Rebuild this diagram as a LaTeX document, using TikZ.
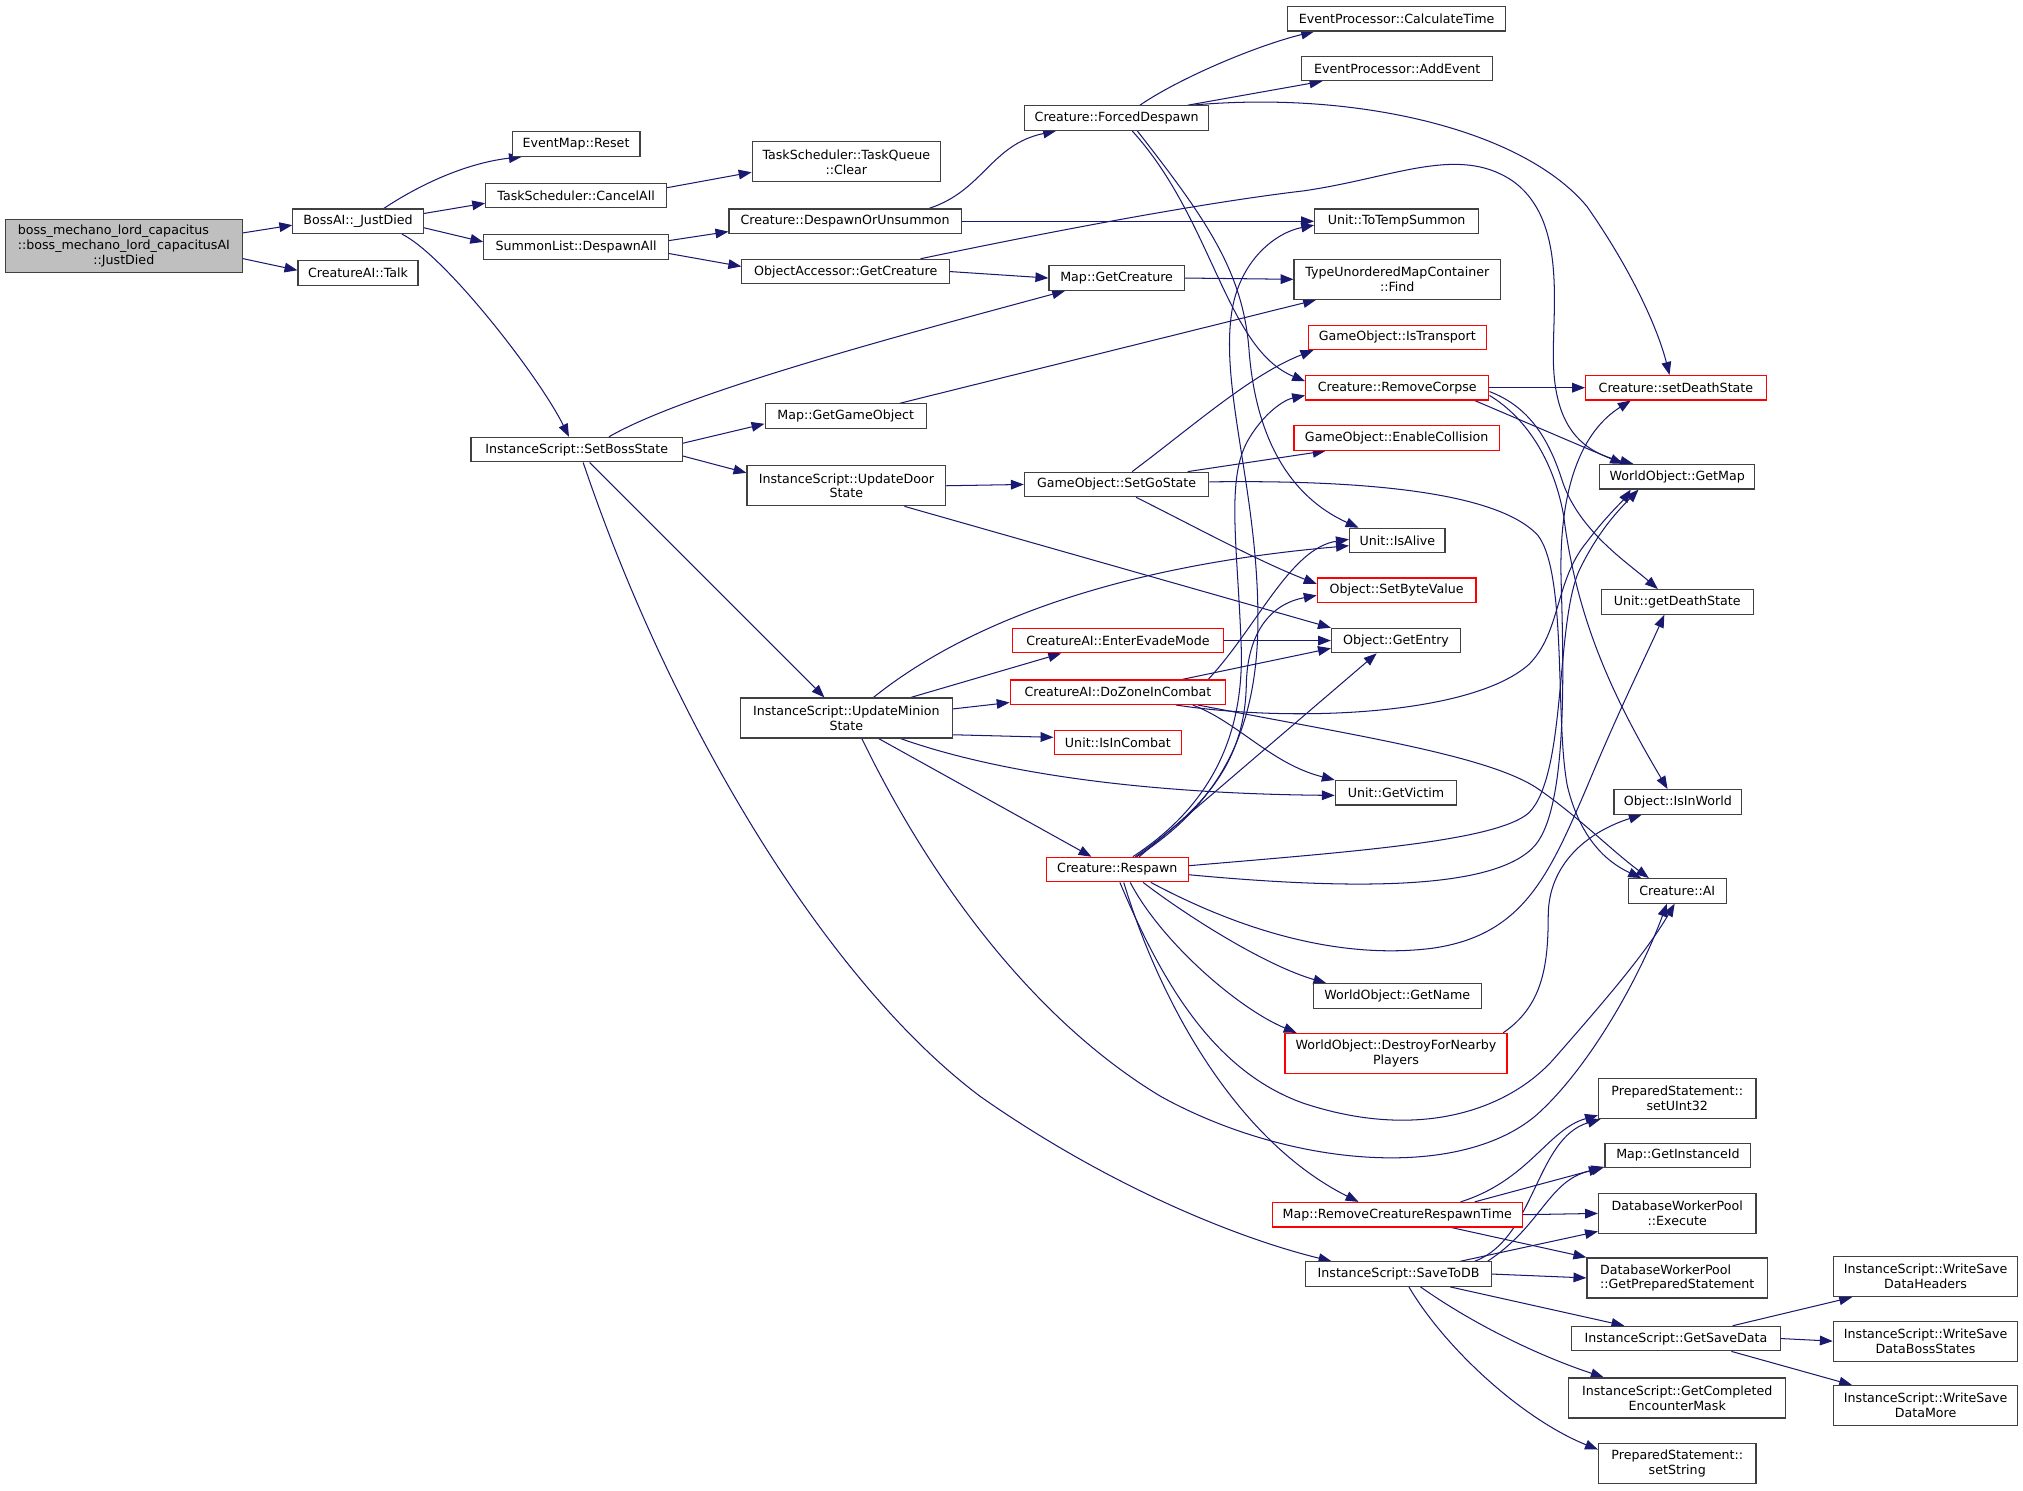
\documentclass[tikz,border=0pt]{standalone}
\usepackage{fontspec}
\setmainfont{DejaVu Sans}
\usetikzlibrary{arrows.meta,backgrounds}
\definecolor{edgeblue}{HTML}{191970}
\definecolor{boxgray}{HTML}{404040}
\definecolor{mainfill}{HTML}{BFBFBF}
\tikzset{
  fn/.style={draw=boxgray, fill=white, line width=0.9pt, inner sep=0pt, minimum height=19pt, align=center, font=\fontsize{9.8}{11.5}\selectfont},
  fnred/.style={fn, draw=red},
  twoline/.style={minimum height=31pt},
  call/.style={draw=edgeblue, line width=0.8pt, -{Triangle[length=10pt,width=7.5pt]}}
}
\begin{document}
\begin{tikzpicture}[x=1pt,y=-1pt]
\useasboundingbox (0,0) rectangle (1568,1155);

\node[fn, fill=mainfill, minimum width=184pt, minimum height=41pt] (main) at (96,190.5) {\rlap{boss\_mechano\_lord\_capacitus}\phantom{::boss\_mechano\_lord\_capacitusAI}\\::boss\_mechano\_lord\_capacitusAI\\::JustDied};
\node[fn, minimum width=101pt] (bossai) at (277.5,171.5) {BossAI::\_JustDied};
\node[fn, minimum width=93pt] (talk) at (277.5,211.5) {CreatureAI::Talk};
\node[fn, minimum width=99pt] (reset) at (446.5,111.5) {EventMap::Reset};
\node[fn, minimum width=140pt] (cancelall) at (446.5,151.5) {TaskScheduler::CancelAll};
\node[fn, minimum width=143pt] (despawnall) at (446.5,191.5) {SummonList::DespawnAll};
\node[fn, minimum width=164pt] (setboss) at (447,348.5) {InstanceScript::SetBossState};
\node[fn, twoline, minimum width=146pt] (clear) at (656,125.5) {TaskScheduler::TaskQueue\\::Clear};
\node[fn, minimum width=180pt] (despawnorun) at (655,171.5) {Creature::DespawnOrUnsummon};
\node[fn, minimum width=161pt] (oagetcr) at (655.5,210.5) {ObjectAccessor::GetCreature};
\node[fn, minimum width=125pt] (getgo) at (655.5,322.5) {Map::GetGameObject};
\node[fn, twoline, minimum width=154pt] (updoor) at (656,376.5) {InstanceScript::UpdateDoor\\State};
\node[fn, twoline, minimum width=164pt] (minion) at (656,556.5) {InstanceScript::UpdateMinion\\State};
\node[fn, minimum width=143pt] (forced) at (865.5,91.5) {Creature::ForcedDespawn};
\node[fn, minimum width=105pt] (mapgetcr) at (865.5,215.5) {Map::GetCreature};
\node[fn, minimum width=143pt] (setgo) at (865.5,375.5) {GameObject::SetGoState};
\node[fnred, minimum width=163pt] (evade) at (866.5,496.5) {CreatureAI::EnterEvadeMode};
\node[fnred, minimum width=167pt] (zone) at (866.5,536.5) {CreatureAI::DoZoneInCombat};
\node[fnred, minimum width=99pt] (incombat) at (866.5,575.5) {Unit::IsInCombat};
\node[fnred, minimum width=110pt] (respawn) at (866,674) {Creature::Respawn};
\node[fn, minimum width=169pt] (calctime) at (1082.5,14.5) {EventProcessor::CalculateTime};
\node[fn, minimum width=148pt] (addevent) at (1083,53) {EventProcessor::AddEvent};
\node[fn, minimum width=127pt] (totemp) at (1082.5,171.5) {Unit::ToTempSummon};
\node[fn, twoline, minimum width=160pt] (find) at (1083,216.5) {TypeUnorderedMapContainer\\::Find};
\node[fnred, minimum width=138pt] (istransport) at (1083,261.5) {GameObject::IsTransport};
\node[fnred, minimum width=142pt] (removecorpse) at (1083,300.5) {Creature::RemoveCorpse};
\node[fnred, minimum width=159pt] (enablecoll) at (1082.5,339.5) {GameObject::EnableCollision};
\node[fn, minimum width=74pt] (isalive) at (1083,419) {Unit::IsAlive};
\node[fnred, minimum width=123pt] (setbyte) at (1082.5,457.5) {Object::SetByteValue};
\node[fn, minimum width=100pt] (getentry) at (1082,496.5) {Object::GetEntry};
\node[fn, minimum width=94pt] (getvictim) at (1082,614.5) {Unit::GetVictim};
\node[fn, minimum width=130pt] (getname) at (1083,772) {WorldObject::GetName};
\node[fnred, twoline, minimum width=172pt] (destroy) at (1082,816.5) {WorldObject::DestroyForNearby\\Players};
\node[fnred, minimum width=194pt] (removeresp) at (1083,941.5) {Map::RemoveCreatureRespawnTime};
\node[fn, minimum width=144pt] (savetodb) at (1084,987.5) {InstanceScript::SaveToDB};
\node[fnred, minimum width=140pt] (setdeath) at (1299,300.5) {Creature::setDeathState};
\node[fn, minimum width=120pt] (getmap) at (1300,369.5) {WorldObject::GetMap};
\node[fn, minimum width=118pt] (getdeathst) at (1300,466.5) {Unit::getDeathState};
\node[fn, minimum width=99pt] (isinworld) at (1300.5,621.5) {Object::IsInWorld};
\node[fn, minimum width=76pt] (ai) at (1300,690.5) {Creature::AI};
\node[fn, twoline, minimum width=122pt] (setuint) at (1300,851.5) {PreparedStatement::\\setUInt32};
\node[fn, minimum width=113pt] (getinst) at (1300.5,895.5) {Map::GetInstanceId};
\node[fn, twoline, minimum width=122pt] (execute) at (1300,940.5) {DatabaseWorkerPool\\::Execute};
\node[fn, twoline, minimum width=140pt] (getprep) at (1300,990.5) {\rlap{DatabaseWorkerPool}\phantom{::GetPreparedStatement}\\::GetPreparedStatement};
\node[fn, minimum width=162pt] (getsave) at (1299,1037.5) {InstanceScript::GetSaveData};
\node[fn, twoline, minimum width=168pt] (completed) at (1300,1083.5) {InstanceScript::GetCompleted\\EncounterMask};
\node[fn, twoline, minimum width=122pt] (setstring) at (1300,1134.5) {PreparedStatement::\\setString};
\node[fn, twoline, minimum width=143pt] (headers) at (1492.5,989.5) {InstanceScript::WriteSave\\DataHeaders};
\node[fn, twoline, minimum width=143pt] (bossst) at (1492.5,1039.5) {InstanceScript::WriteSave\\DataBossStates};
\node[fn, twoline, minimum width=143pt] (more) at (1492.5,1089.5) {InstanceScript::WriteSave\\DataMore};

\begin{scope}[on background layer]
\draw[call] ([yshift=10pt]main.east) -- ([yshift=-3pt]bossai.west);
\draw[call] ([yshift=-10pt]main.east) -- ([yshift=2pt]talk.west);
\draw[call] ([xshift=20pt]bossai.north) .. controls (330,140) and (365,126) .. ([xshift=-42pt]reset.south);
\draw[call] ([yshift=6pt]bossai.east) -- ([yshift=-6pt]cancelall.west);
\draw[call] ([yshift=-5pt]bossai.east) -- ([yshift=4pt]despawnall.west);
\draw[call] ([xshift=34pt]bossai.south) .. controls (345,198) and (418,292) .. ([xshift=-6pt]setboss.north);
\draw[call] ([yshift=6pt]cancelall.east) -- ([yshift=-8pt]clear.west);
\draw[call] ([yshift=5pt]despawnall.east) -- ([yshift=-8pt]despawnorun.west);
\draw[call] ([yshift=-5pt]despawnall.east) -- ([yshift=4pt]oagetcr.west);
\draw[call] ([xshift=65pt]despawnorun.north) .. controls (762,148) and (768,112) .. ([xshift=-47pt]forced.south);
\draw[call] (despawnorun.east) -- (totemp.west);
\draw[call] (oagetcr.east) -- (mapgetcr.west);
\draw[call] ([xshift=58pt]oagetcr.north) .. controls (850,172) and (950,155) .. (1010,148) .. controls (1080,138) and (1130,112) .. (1172,140) .. controls (1215,170) and (1203,240) .. (1204,280) .. controls (1205,330) and (1225,350) .. ([xshift=-34pt]getmap.north);
\draw[call] ([xshift=18pt]forced.north) .. controls (915,60) and (975,35) .. ([xshift=-64pt]calctime.south);
\draw[call] ([xshift=55pt]forced.north) -- ([xshift=-58pt]addevent.south);
\draw[call] ([xshift=58pt]forced.north) .. controls (1050,70) and (1180,100) .. (1230,160) .. controls (1265,210) and (1285,255) .. ([xshift=-5pt]setdeath.north);
\draw[call] ([xshift=12pt]forced.south) .. controls (940,170) and (950,270) .. ([yshift=5pt]removecorpse.west);
\draw[call] ([xshift=16pt]forced.south) .. controls (935,170) and (963,210) .. (968,270) .. controls (973,340) and (1000,385) .. ([xshift=-30pt]isalive.north);
\draw[call] (mapgetcr.east) -- (find.west);
\draw[call] ([xshift=42pt]getgo.north) -- ([xshift=-63pt]find.south);
\draw[call] ([xshift=25pt]setboss.north) .. controls (530,305) and (690,262) .. ([xshift=-40pt]mapgetcr.south);
\draw[call] ([yshift=5pt]setboss.east) -- ([yshift=-6pt]getgo.west);
\draw[call] ([yshift=-5pt]setboss.east) -- ([yshift=10pt]updoor.west);
\draw[call] ([xshift=10pt]setboss.south) -- ([xshift=-17pt]minion.north);
\draw[call] ([xshift=5pt]setboss.south) .. controls (520,560) and (640,760) .. (760,850) .. controls (860,920) and (960,960) .. ([xshift=-52pt]savetodb.north);
\draw[call] (updoor.east) -- (setgo.west);
\draw[call] ([xshift=45pt]updoor.south) -- (getentry.north west);
\draw[call] ([xshift=12pt]setgo.north) .. controls (925,330) and (970,290) .. ([xshift=-65pt]istransport.south);
\draw[call] ([xshift=55pt]setgo.north) -- ([xshift=-55pt]enablecoll.south);
\draw[call] ([xshift=15pt]setgo.south) .. controls (920,405) and (975,435) .. ([yshift=5pt]setbyte.west);
\draw[call] ([yshift=2pt]setgo.east) .. controls (1050,372) and (1160,380) .. (1192,415) .. controls (1215,445) and (1205,560) .. (1215,610) .. controls (1225,650) and (1245,668) .. ([xshift=-28pt]ai.north);
\draw[call] (removecorpse.east) -- (setdeath.west);
\draw[call] ([xshift=60pt]removecorpse.south) -- ([xshift=-42pt]getmap.north);
\draw[call] ([yshift=-3pt]removecorpse.east) .. controls (1185,315) and (1200,340) .. (1210,370) .. controls (1222,410) and (1260,435) .. ([xshift=-15pt]getdeathst.north);
\draw[call] ([yshift=-6pt]removecorpse.east) .. controls (1185,325) and (1205,360) .. (1212,400) .. controls (1222,480) and (1250,540) .. ([xshift=-8pt]isinworld.north);
\draw[call] ([xshift=21pt]minion.north) .. controls (740,490) and (850,440) .. ([yshift=-4pt]isalive.west);
\draw[call] ([xshift=50pt]minion.north) -- ([xshift=-44pt]evade.south);
\draw[call] ([yshift=7pt]minion.east) -- ([yshift=-8pt]zone.west);
\draw[call] ([yshift=-13pt]minion.east) -- ([yshift=4pt]incombat.west);
\draw[call] ([xshift=42pt]minion.south) .. controls (770,598) and (880,615) .. ([yshift=-2pt]getvictim.west);
\draw[call] ([xshift=25pt]minion.south) -- ([xshift=-20pt]respawn.north);
\draw[call] ([xshift=12pt]minion.south) .. controls (720,680) and (800,790) .. (900,850) .. controls (1000,905) and (1130,915) .. (1190,865) .. controls (1230,830) and (1270,760) .. ([xshift=-8pt]ai.south);
\draw[call] (evade.east) -- (getentry.west);
\draw[call] ([xshift=50pt]zone.north) -- ([yshift=-6pt]getentry.west);
\draw[call] ([xshift=70pt]zone.north) .. controls (975,485) and (1000,425) .. ([yshift=1pt]isalive.west);
\draw[call] ([xshift=58pt]zone.south) .. controls (960,560) and (985,592) .. (getvictim.north west);
\draw[call] ([xshift=45pt]zone.south) .. controls (1000,560) and (1140,555) .. (1185,515) .. controls (1210,490) and (1205,450) .. (1230,420) .. controls (1245,400) and (1258,388) .. ([xshift=-36pt]getmap.south);
\draw[call] ([xshift=62pt]zone.south) .. controls (1050,570) and (1150,585) .. (1190,610) .. controls (1220,630) and (1250,660) .. ([xshift=-22pt]ai.north);
\draw[call] ([xshift=12pt]respawn.north) .. controls (930,630) and (965,580) .. (962,500) .. controls (959,420) and (950,370) .. (968,340) .. controls (980,320) and (995,310) .. ([yshift=-6pt]removecorpse.west);
\draw[call] ([xshift=15pt]respawn.north) .. controls (950,620) and (975,560) .. (975,480) .. controls (975,380) and (945,300) .. (955,240) .. controls (962,200) and (990,180) .. ([yshift=-3pt]totemp.west);
\draw[call] ([xshift=14pt]respawn.north) .. controls (935,625) and (965,590) .. (966,530) .. controls (967,490) and (985,468) .. ([yshift=-4pt]setbyte.west);
\draw[call] ([xshift=17pt]respawn.north) -- ([xshift=-15pt]getentry.south);
\draw[call] ([yshift=3pt]respawn.east) .. controls (1050,660) and (1160,652) .. (1185,630) .. controls (1215,600) and (1205,480) .. (1225,440) .. controls (1240,410) and (1255,395) .. ([xshift=-30pt]getmap.south);
\draw[call] ([yshift=-4pt]respawn.east) .. controls (1050,690) and (1160,690) .. (1190,655) .. controls (1215,625) and (1212,520) .. (1210,450) .. controls (1208,380) and (1225,335) .. ([xshift=-35pt]setdeath.south);
\draw[call] ([xshift=26pt]respawn.south) .. controls (950,715) and (1030,745) .. (1110,735) .. controls (1180,725) and (1200,680) .. (1230,610) .. controls (1255,550) and (1275,510) .. ([xshift=-10pt]getdeathst.south);
\draw[call] ([xshift=2pt]respawn.south) .. controls (900,760) and (940,830) .. (1010,855) .. controls (1100,885) and (1170,860) .. (1205,820) .. controls (1240,780) and (1275,740) .. ([xshift=-2pt]ai.south);
\draw[call] ([xshift=20pt]respawn.south) .. controls (920,710) and (980,748) .. ([xshift=-55pt]getname.north);
\draw[call] ([xshift=10pt]respawn.south) .. controls (900,730) and (960,782) .. ([xshift=-77pt]destroy.north);
\draw[call] ([xshift=5pt]respawn.south) .. controls (900,780) and (960,885) .. ([xshift=-30pt]removeresp.north);
\draw[call] ([xshift=83pt]destroy.north) .. controls (1195,780) and (1200,750) .. (1200,710) .. controls (1200,670) and (1230,645) .. ([xshift=-28pt]isinworld.south);
\draw[call] ([xshift=49pt]removeresp.north) .. controls (1185,915) and (1200,875) .. ([yshift=3pt]setuint.south west);
\draw[call] ([xshift=60pt]removeresp.north) -- ([yshift=1pt]getinst.south west);
\draw[call] (removeresp.east) -- (execute.west);
\draw[call] ([xshift=42pt]removeresp.south) -- (getprep.north west);
\draw[call] ([xshift=59pt]savetodb.north) .. controls (1190,960) and (1190,882) .. ([xshift=2pt]setuint.south west);
\draw[call] ([xshift=69pt]savetodb.north) .. controls (1195,950) and (1200,915) .. ([xshift=-2pt]getinst.south west);
\draw[call] ([xshift=48pt]savetodb.north) -- ([yshift=2pt]execute.south west);
\draw[call] (savetodb.east) -- (getprep.west);
\draw[call] ([xshift=40pt]savetodb.south) -- ([xshift=-40pt]getsave.north);
\draw[call] ([xshift=17pt]savetodb.south) .. controls (1140,1025) and (1190,1050) .. ([xshift=-57pt]completed.north);
\draw[call] ([xshift=8pt]savetodb.south) .. controls (1120,1045) and (1180,1100) .. ([yshift=11pt]setstring.west);
\draw[call] ([xshift=44pt]getsave.north) -- ([xshift=-57pt]headers.south);
\draw[call] (getsave.east) -- (bossst.west);
\draw[call] ([xshift=43pt]getsave.south) -- ([xshift=-57pt]more.north);
\end{scope}
\end{tikzpicture}
\end{document}
